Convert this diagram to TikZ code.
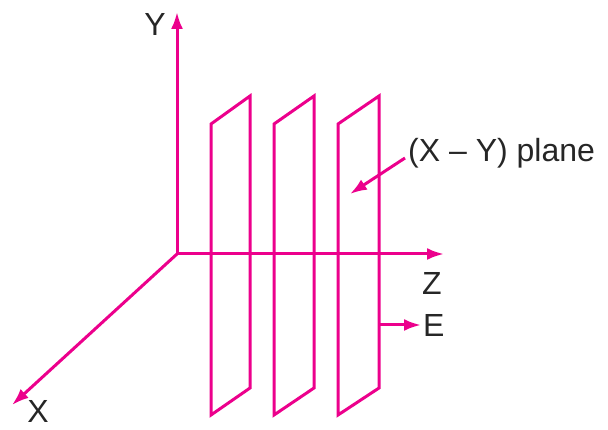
\documentclass[tikz,border=0pt]{standalone}
\usepackage{fontspec}
\setmainfont{Liberation Sans}
\usetikzlibrary{arrows.meta}
\definecolor{mag}{RGB}{236,0,140}
\tikzset{
  ax/.style={draw=mag, line width=3pt, -{Latex[length=17pt,width=12pt]}},
  pl/.style={draw=mag, line width=3pt, line join=miter},
  lbl/.style={font=\fontsize{32}{34}\selectfont, text=black!85, inner sep=0pt}
}
\begin{document}
\begin{tikzpicture}[x=1pt,y=-1pt]
\useasboundingbox (0,0) rectangle (608,430);
\coordinate (O) at (177,254);
\coordinate (Ytip) at (177,12);
\coordinate (Ztip) at (444,254);
\coordinate (Xtip) at (12,405);
% planes
\foreach \i/\xl/\xr in {1/211/250, 2/274/314, 3/338/379} {
  \draw[pl] (\xl,124) coordinate (p\i a) -- (\xr,96) coordinate (p\i b) -- (\xr,388) coordinate (p\i c) -- (\xl,415) coordinate (p\i d) -- cycle;
}
\draw[ax] (O) -- (Ytip);
\draw[ax] (O) -- (Ztip);
\draw[ax] (O) -- (Xtip);
% E arrow
\node[lbl, anchor=west] (E) at (423,325) {E};
\coordinate (Es) at (379,325);
\coordinate (Ee) at (421,325);
\draw[ax] (Es) -- (Ee);
% labels
\node[lbl] (Y) at (155,24) {Y};
\node[lbl] (Z) at (432,283) {Z};
\node[lbl] (X) at (38,411) {X};
\node[lbl, anchor=west] (P) at (408,153) {(X – Y) plane};
\coordinate (Ps) at (405,158);
\coordinate (Ptip) at (350,194);
\draw[ax] (Ps) -- (Ptip);
\end{tikzpicture}
\end{document}
